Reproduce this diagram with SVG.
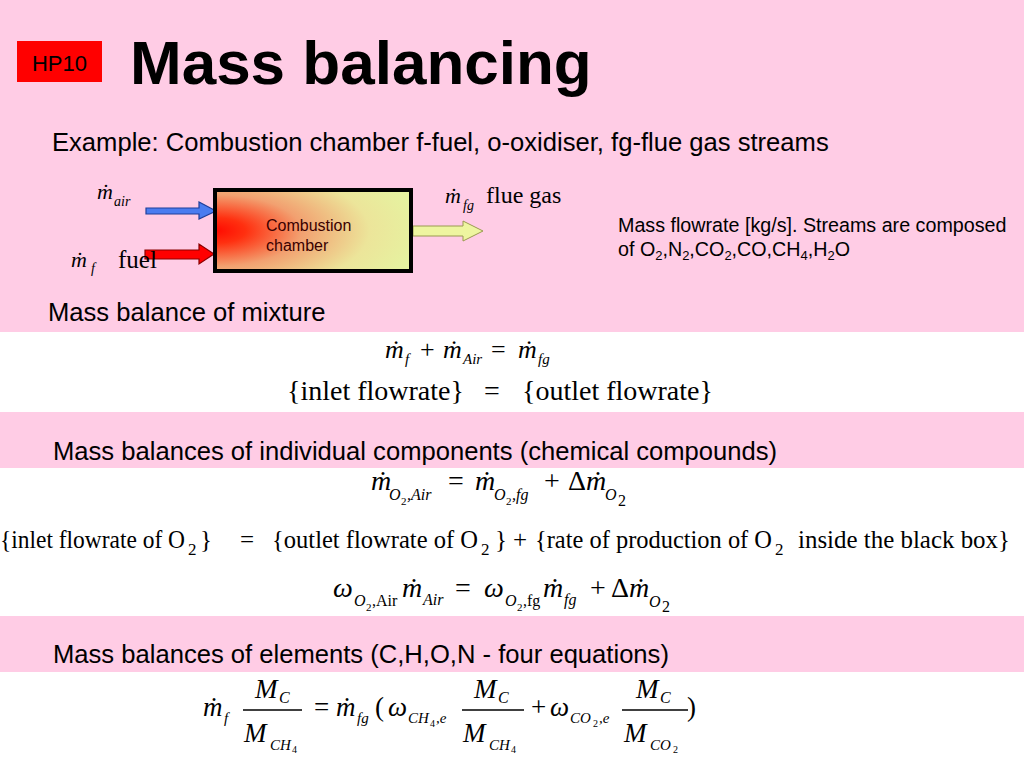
<svg xmlns="http://www.w3.org/2000/svg" width="1024" height="768" viewBox="0 0 1024 768">
<defs>
<style>
.sans{font-family:"Liberation Sans",Arial,sans-serif;fill:#000}
.ti{font-family:"Liberation Serif","Times New Roman",serif;font-style:italic;fill:#000}
.tr{font-family:"Liberation Serif","Times New Roman",serif;fill:#000}
.up{font-style:normal}
.dot{font-family:"Liberation Serif","Times New Roman",serif;text-anchor:middle;fill:#000}
.bar{stroke:#000;stroke-width:1.5}
.head{font-size:25.6px}
</style>
<radialGradient id="fire" cx="0" cy="0.5" r="1.05" fx="0" fy="0.5">
<stop offset="0" stop-color="#FF0A00"/>
<stop offset="0.15" stop-color="#FF3010"/>
<stop offset="0.42" stop-color="#F2A070"/>
<stop offset="0.75" stop-color="#ECE59A"/>
<stop offset="1" stop-color="#E6F2A0"/>
</radialGradient>
</defs>

<g id="background">
<rect x="0" y="0" width="1024" height="768" fill="#FFFFFF"/>
<rect x="0" y="0" width="1024" height="332" fill="#FFCCE5"/>
<rect x="0" y="412" width="1024" height="56" fill="#FFCCE5"/>
<rect x="0" y="616" width="1024" height="56" fill="#FFCCE5"/>
</g>

<g id="badge">
<rect x="17" y="41" width="85" height="41" fill="#FF0000"/>
<text class="sans" x="59.5" y="71" font-size="22" text-anchor="middle">HP10</text>
</g>

<g id="title">
<text class="sans" x="130" y="84" font-size="62" font-weight="bold">Mass balancing</text>
</g>

<g id="example-text">
<text class="sans head" x="52" y="151">Example: Combustion chamber f-fuel, o-oxidiser, fg-flue gas streams</text>
</g>

<g id="connectors">
<polygon id="air-arrow" points="146,208 199,208 199,202 216,211 199,219 199,214 146,214" fill="#4A7CF0" stroke="#1F3F9A" stroke-width="1.2"/>
<polygon id="fuel-arrow" points="145,250 199,250 199,244 214,254 199,264 199,259 145,259" fill="#FF0000" stroke="#8A0000" stroke-width="1.2"/>
<polygon id="flue-arrow" points="413,226 463,226 463,221 483,231 463,241 463,236 413,236" fill="#EEF5A0" stroke="#9A9A50" stroke-width="1"/>
</g>

<g id="combustion-chamber">
<rect x="215" y="190" width="196" height="81" fill="url(#fire)" stroke="#000" stroke-width="4"/>
<text class="sans" font-size="16" fill="#3A0000"><tspan x="266" y="231" fill="#3A0000">Combustion</tspan><tspan x="266" y="251" fill="#3A0000">chamber</tspan></text>
</g>

<g id="label-air">
<text class="ti" font-size="22"><tspan x="97" y="199">m</tspan><tspan x="114" y="206" font-size="14">air</tspan></text>
<text class="dot" x="106" y="199" font-size="22">˙</text>
</g>

<g id="label-fuel">
<text class="ti" font-size="22"><tspan x="71" y="267">m</tspan><tspan x="91" y="273" font-size="14">f</tspan></text>
<text class="dot" x="80" y="267" font-size="22">˙</text>
<text class="tr" x="118" y="268" font-size="25">fuel</text>
</g>

<g id="label-flue">
<text class="ti" font-size="22"><tspan x="445" y="203">m</tspan><tspan x="463" y="210" font-size="14">fg</tspan></text>
<text class="dot" x="454" y="203" font-size="22">˙</text>
<text class="tr" x="486" y="203" font-size="24">flue gas</text>
</g>

<g id="note">
<text class="sans" font-size="19.7"><tspan x="618" y="232">Mass flowrate [kg/s]. Streams are composed</tspan><tspan x="618" y="256">of O<tspan dy="4" font-size="13">2</tspan><tspan dy="-4">,N</tspan><tspan dy="4" font-size="13">2</tspan><tspan dy="-4">,CO</tspan><tspan dy="4" font-size="13">2</tspan><tspan dy="-4">,CO,CH</tspan><tspan dy="4" font-size="13">4</tspan><tspan dy="-4">,H</tspan><tspan dy="4" font-size="13">2</tspan><tspan dy="-4">O</tspan></tspan></text>
</g>

<g id="heading-mixture">
<text class="sans head" x="48" y="321">Mass balance of mixture</text>
</g>

<g id="eq-mixture">
<text class="ti" font-size="26">
<tspan x="385" y="358">m</tspan><tspan x="405" y="364" font-size="15">f</tspan>
<tspan x="420" y="358" class="up">+</tspan>
<tspan x="443" y="358">m</tspan><tspan x="463" y="364" font-size="15">Air</tspan>
<tspan x="491" y="358" class="up">=</tspan>
<tspan x="518" y="358">m</tspan><tspan x="538" y="364" font-size="15">fg</tspan>
</text>
<text class="dot" x="396" y="358" font-size="26">˙</text>
<text class="dot" x="454" y="358" font-size="26">˙</text>
<text class="dot" x="529" y="358" font-size="26">˙</text>
<text class="tr" font-size="28"><tspan x="287" y="400">{inlet flowrate}</tspan><tspan x="484" y="400">=</tspan><tspan x="522" y="400">{outlet flowrate}</tspan></text>
</g>

<g id="heading-components">
<text class="sans head" x="53" y="460">Mass balances of individual components (chemical compounds)</text>
</g>

<g id="eq-o2">
<text class="ti" font-size="28">
<tspan x="371" y="490">m</tspan><tspan x="389" y="500" font-size="16">O</tspan><tspan x="401" y="505" font-size="11" class="up">2</tspan><tspan x="407" y="500" font-size="16">,Air</tspan>
<tspan x="448" y="490" class="up">=</tspan>
<tspan x="475" y="490">m</tspan><tspan x="494" y="500" font-size="16">O</tspan><tspan x="506" y="505" font-size="11" class="up">2</tspan><tspan x="512" y="500" font-size="16">,fg</tspan>
<tspan x="544" y="490" class="up">+</tspan>
<tspan x="568" y="490" class="up">Δ</tspan><tspan x="586" y="490">m</tspan><tspan x="605" y="500" font-size="16">O</tspan><tspan x="618" y="506" font-size="16" class="up">2</tspan>
</text>
<text class="dot" x="383" y="490" font-size="28">˙</text>
<text class="dot" x="487" y="490" font-size="28">˙</text>
<text class="dot" x="598" y="490" font-size="28">˙</text>

<g class="tr" font-size="25">
<text x="0" y="548" textLength="185" lengthAdjust="spacingAndGlyphs">{inlet flowrate of O</text>
<text x="188" y="555" font-size="17">2</text>
<text x="200" y="548">}</text>
<text x="240" y="548">=</text>
<text x="272" y="548" textLength="206" lengthAdjust="spacingAndGlyphs">{outlet flowrate of O</text>
<text x="481" y="555" font-size="17">2</text>
<text x="495" y="548">}</text>
<text x="513" y="548">+</text>
<text x="535" y="548" textLength="237" lengthAdjust="spacingAndGlyphs">{rate of production of O</text>
<text x="775" y="555" font-size="17">2</text>
<text x="798" y="548" textLength="212" lengthAdjust="spacingAndGlyphs">inside the black box}</text>
</g>

<text class="ti" font-size="28">
<tspan x="333" y="597">ω</tspan><tspan x="354" y="606" font-size="16">O</tspan><tspan x="366" y="611" font-size="11" class="up">2</tspan><tspan x="372" y="606" font-size="16" class="up">,Air</tspan>
<tspan x="402" y="597">m</tspan><tspan x="423" y="605" font-size="16">Air</tspan>
<tspan x="455" y="597" class="up">=</tspan>
<tspan x="484" y="597">ω</tspan><tspan x="505" y="606" font-size="16">O</tspan><tspan x="517" y="611" font-size="11" class="up">2</tspan><tspan x="523" y="606" font-size="16" class="up">,fg</tspan>
<tspan x="543" y="597">m</tspan><tspan x="564" y="605" font-size="16">fg</tspan>
<tspan x="590" y="597" class="up">+</tspan>
<tspan x="611" y="597" class="up">Δ</tspan><tspan x="629" y="597">m</tspan><tspan x="649" y="607" font-size="16">O</tspan><tspan x="662" y="612" font-size="16" class="up">2</tspan>
</text>
<text class="dot" x="414" y="597" font-size="28">˙</text>
<text class="dot" x="555" y="597" font-size="28">˙</text>
<text class="dot" x="641" y="597" font-size="28">˙</text>
</g>

<g id="heading-elements">
<text class="sans head" x="53" y="663">Mass balances of elements (C,H,O,N - four equations)</text>
</g>

<g id="eq-elements">
<text class="ti" font-size="27">
<tspan x="203" y="716">m</tspan><tspan x="224" y="723" font-size="15">f</tspan>
<tspan x="255" y="698">M</tspan><tspan x="279" y="703" font-size="16">C</tspan>
<tspan x="244" y="742">M</tspan><tspan x="270" y="750" font-size="15">CH</tspan><tspan x="292" y="753" font-size="10" class="up">4</tspan>
<tspan x="314" y="716" class="up">=</tspan>
<tspan x="336" y="716">m</tspan><tspan x="357" y="723" font-size="15">fg</tspan>
<tspan x="375" y="716" class="up">(</tspan>
<tspan x="388" y="716">ω</tspan><tspan x="408" y="723" font-size="15">CH</tspan><tspan x="430" y="727" font-size="10" class="up">4</tspan><tspan x="436" y="723" font-size="15">,e</tspan>
<tspan x="474" y="698">M</tspan><tspan x="498" y="703" font-size="16">C</tspan>
<tspan x="463" y="742">M</tspan><tspan x="489" y="750" font-size="15">CH</tspan><tspan x="511" y="753" font-size="10" class="up">4</tspan>
<tspan x="531" y="716" class="up">+</tspan>
<tspan x="550" y="716">ω</tspan><tspan x="570" y="723" font-size="15">CO</tspan><tspan x="593" y="727" font-size="10" class="up">2</tspan><tspan x="599" y="723" font-size="15">,e</tspan>
<tspan x="636" y="698">M</tspan><tspan x="660" y="703" font-size="16">C</tspan>
<tspan x="624" y="742">M</tspan><tspan x="650" y="750" font-size="15">CO</tspan><tspan x="673" y="753" font-size="10" class="up">2</tspan>
<tspan x="687" y="716" class="up">)</tspan>
</text>
<text class="dot" x="214" y="716" font-size="27">˙</text>
<text class="dot" x="347" y="716" font-size="27">˙</text>
<line class="bar" x1="243" y1="710" x2="302" y2="710"/>
<line class="bar" x1="462" y1="710" x2="524" y2="710"/>
<line class="bar" x1="622" y1="710" x2="688" y2="710"/>
</g>
</svg>
